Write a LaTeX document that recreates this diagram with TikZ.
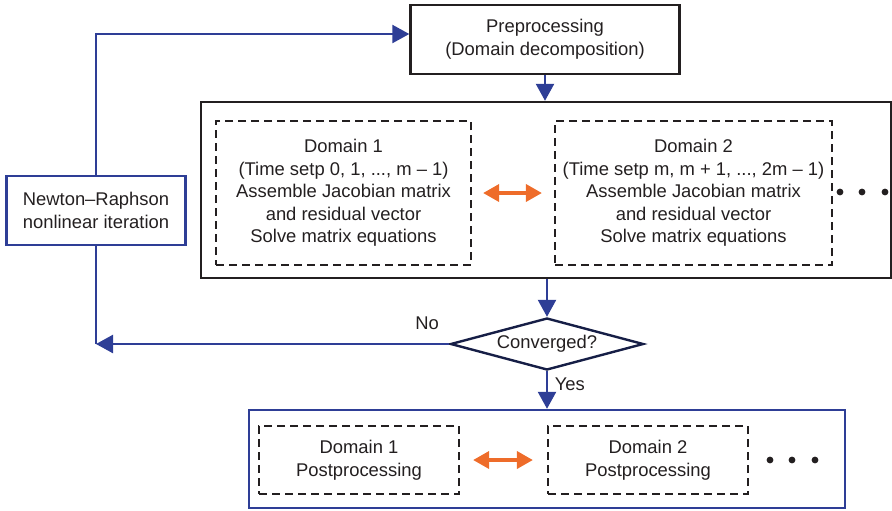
\documentclass[tikz,border=0pt]{standalone}
\usepackage{fontspec}
\setmainfont{Liberation Sans}
\usetikzlibrary{shapes.geometric,arrows.meta}
\definecolor{flowblue}{RGB}{46,62,150}
\definecolor{linkorange}{RGB}{238,108,42}
\definecolor{decnavy}{RGB}{22,30,70}
\definecolor{inkgray}{RGB}{35,31,32}

\begin{document}
\begin{tikzpicture}[x=0.5pt,y=-0.5pt,font=\fontsize{9.2}{11.3}\selectfont,text=inkgray,
  box/.style={draw=inkgray,line width=1.2pt,align=center,inner sep=0pt},
  dombox/.style={draw=inkgray,line width=1.1pt,dash pattern=on 4pt off 2.5pt,align=center,inner sep=0pt},
  bluebox/.style={draw=flowblue,line width=1.2pt,align=center,inner sep=0pt},
  flow/.style={flowblue,line width=1.2pt},
  flowarrow/.style={flow,-{Triangle[length=8.5pt,width=9pt]}},
  link/.style={linkorange,line width=1.8pt,{Triangle[length=8pt,width=8.5pt]}-{Triangle[length=8pt,width=8.5pt]}}]
	\useasboundingbox (0,0) rectangle (892,510);
	% preprocessing and solver
	\node[box,minimum width=134.5pt,minimum height=34.5pt] (pre) at (545,39.5) {Preprocessing\\(Domain decomposition)};
	\node[box,minimum width=345pt,minimum height=88pt] (solve) at (546,190) {};
	\node[dombox,minimum width=127.5pt,minimum height=72pt] (dom1) at (343.5,193) {Domain 1\\(Time setp 0, 1, ..., m -- 1)\\Assemble Jacobian matrix\\and residual vector\\Solve matrix equations};
	\node[dombox,minimum width=138.5pt,minimum height=72pt] (dom2) at (693.5,193) {Domain 2\\(Time setp m, m + 1, ..., 2m -- 1)\\Assemble Jacobian matrix\\and residual vector\\Solve matrix equations};
	\draw[link,shorten <=5.5pt,shorten >=6pt] (dom1.east) -- (dom2.west);
	\foreach \x in {840,862,885} \fill[inkgray] (\x,192) circle(1.7pt);
	% newton loop
	\node[bluebox,minimum width=89.5pt,minimum height=34.5pt] (nr) at (96,210.5) {Newton--Raphson\\nonlinear iteration};
	\node[draw=decnavy,line width=1.2pt,shape=diamond,aspect=3.7,inner sep=0pt,minimum width=96.5pt,minimum height=26pt] (conv) at (547,344) {Converged?};
	\coordinate (back) at (conv.west -| nr.south);
	\draw[flowarrow] (nr.north) |- ([yshift=2.75pt]pre.west);
	\draw[flowarrow] (pre.south) -- (pre.south |- solve.north);
	\draw[flowarrow] (solve.south -| conv.north) -- (conv.north);
	\draw[flowarrow] (conv.west) -- (back);
	\draw[flow] (back) -- (nr.south);
	\node[anchor=south east] (no) at (446,337) {No};
	% postprocessing
	\node[bluebox,minimum width=298pt,minimum height=49pt] (post) at (547,459) {};
	\node[dombox,minimum width=100pt,minimum height=34pt] (pdom1) at (359,460) {Domain 1\\Postprocessing};
	\node[dombox,minimum width=100pt,minimum height=34pt] (pdom2) at (648,460) {Domain 2\\Postprocessing};
	\draw[flowarrow] (conv.south) -- (conv.south |- post.north) node[pos=0.35,right,text=inkgray] (yes) {Yes};
	\draw[link,shorten <=6.5pt,shorten >=7pt] (pdom1.east) -- (pdom2.west);
	\foreach \x in {770,792,815} \fill[inkgray] (\x,460) circle(1.7pt);
\end{tikzpicture}
\end{document}
